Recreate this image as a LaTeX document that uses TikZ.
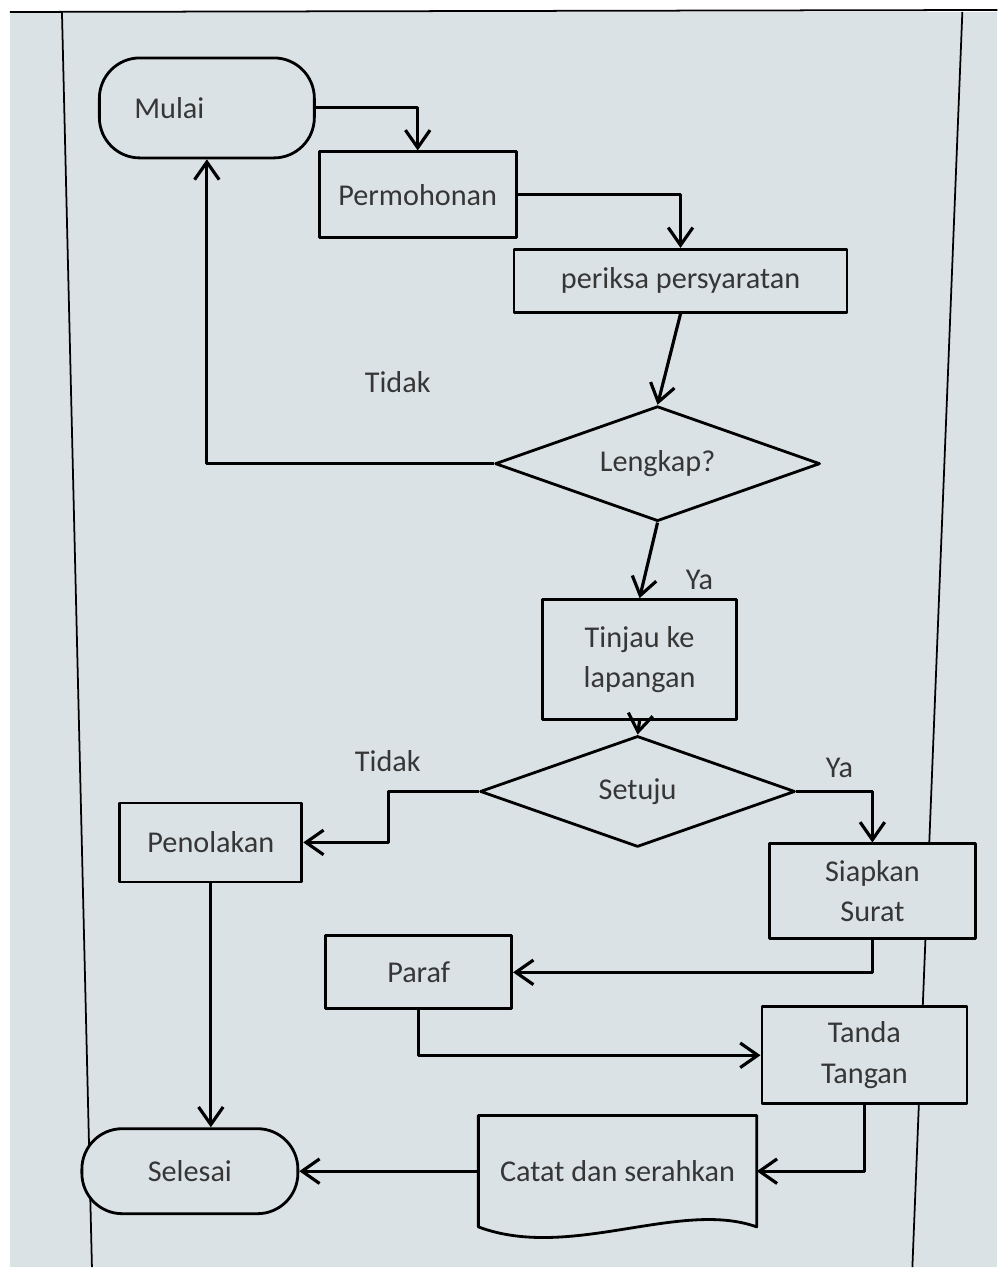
\documentclass[tikz,border=0pt]{standalone}
\usepackage{fontspec}
\setmainfont{Carlito}
\usetikzlibrary{arrows.meta, shapes.geometric}
\definecolor{bg}{HTML}{DBE2E6}
\definecolor{txt}{HTML}{363636}
\tikzset{
	box/.style={draw, fill=bg, line width=0.8pt, inner sep=2pt, align=center, text=txt},
	term/.style={box, rounded corners=11.5pt},
	dec/.style={draw, fill=bg, diamond, aspect=2.8, line width=0.8pt, inner sep=0pt, text=txt},
	arr/.style={->, line width=0.9pt},
	lbl/.style={text=txt},
	lane/.style={line width=0.5pt}
}
\begin{document}
\begin{tikzpicture}[x=0.01cm, y=-0.01cm, font=\fontsize{8.6}{11.5}\selectfont, line join=round, >={Straight Barb[length=5pt,width=7pt]}]
	% background and lanes
	\fill[white] (0,0) rectangle (998,1268);
	\fill[bg] (10,12) rectangle (998,1268);
	\draw[lane] (10,12) -- (998,10);
	\draw[lane] (62,12) -- (92,1268);
	\draw[lane] (963,12) -- (913,1268);
	% nodes
	\node[term, minimum width=2.15cm, minimum height=1cm, text width=1.45cm, align=left] (mulai) at (207,108) {Mulai};
	\node[box, minimum width=1.97cm, minimum height=0.86cm] (permohonan) at (418,195) {Permohonan};
	\node[box, minimum width=3.33cm, minimum height=0.63cm] (periksa) at (681,281) {periksa persyaratan};
	\node[dec, minimum width=3.25cm, minimum height=1.15cm] (lengkap) at (658,464) {Lengkap?};
	\node[box, minimum width=1.94cm, minimum height=1.2cm] (tinjau) at (640,660) {Tinjau ke\\lapangan};
	\node[dec, minimum width=3.15cm, minimum height=1.11cm] (setuju) at (638,792) {Setuju};
	\node[box, minimum width=1.82cm, minimum height=0.79cm] (penolakan) at (211,843) {Penolakan};
	\node[box, minimum width=2.06cm, minimum height=0.95cm] (siapkan) at (873,892) {Siapkan\\Surat};
	\node[box, minimum width=1.86cm, minimum height=0.73cm] (paraf) at (419,973) {Paraf};
	\node[box, minimum width=2.05cm, minimum height=0.97cm] (tanda) at (865,1056) {Tanda\\Tangan};
	\node[term, minimum width=2.16cm, minimum height=0.85cm] (selesai) at (190,1172) {Selesai};
	\node[text=txt, minimum width=2.77cm, minimum height=1.1cm, inner sep=0pt] (catat) at (618,1172) {Catat dan serahkan};
	\draw[line width=0.8pt] (catat.north west) -- (catat.north east) -- (catat.south east)
		.. controls (680,1200) and (570,1262) .. (catat.south west) -- cycle;
	% connectors
	\draw[arr] (mulai.east) -| (permohonan.north);
	\draw[arr] (permohonan.east) -| (periksa.north);
	\draw[arr] (periksa.south) -- (lengkap.north);
	\draw[arr] (lengkap.west) -| (mulai.south);
	\node[lbl] (tidak1) at (398,382) {Tidak};
	\draw[arr] (lengkap.south) -- (tinjau.north);
	\node[lbl] (ya1) at (700,580) {Ya};
	\draw[arr] (tinjau.south) -- (setuju.north);
	\draw[arr] (setuju.west) -- ++(-90,0) |- (penolakan.east);
	\node[lbl] (tidak2) at (388,762) {Tidak};
	\draw[arr] (setuju.east) -| (siapkan.north);
	\node[lbl] (ya2) at (840,768) {Ya};
	\draw[arr] (siapkan.south) |- (paraf.east);
	\draw[arr] (paraf.south) |- (tanda.west);
	\draw[arr] (tanda.south) |- (catat.east);
	\draw[arr] (catat.west) -- (selesai.east);
	\draw[arr] (penolakan.south) -- (penolakan.south |- selesai.north);
\end{tikzpicture}
\end{document}
